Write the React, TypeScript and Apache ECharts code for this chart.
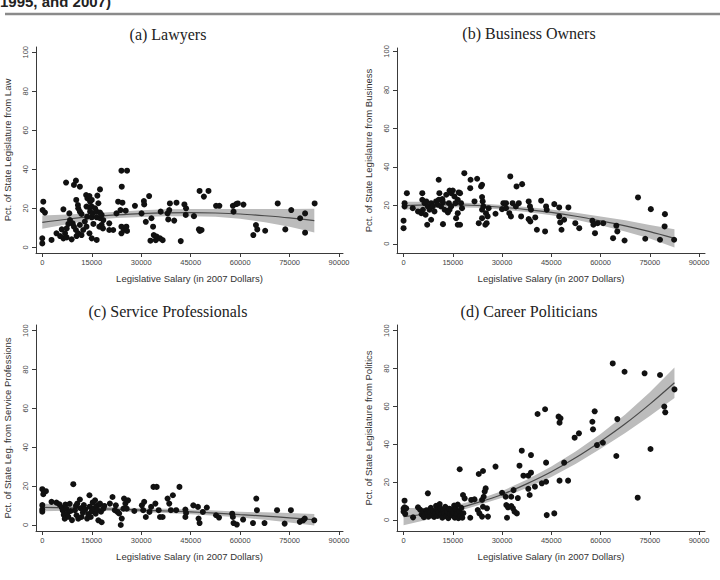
import React, { useEffect, useRef } from "react";
import * as echarts from "echarts";

// Axis ticks shared by all four panels
const salaryTicks = [0, 15000, 30000, 45000, 60000, 75000, 90000];
const pctTicks = [0, 20, 40, 60, 80, 100];

// Salary grid on which the quadratic fits and their 95% bands are given
const fitSalary = [0, 7500, 15000, 22500, 30000, 37500, 45000, 52500, 60000, 67500, 75000, 82500];

// (a) Lawyers: [salary, pct]
const lawyers = [
  [0, 4.6], [0, 2.0], [300, 23.4], [100, 19.1], [800, 17.8], [2800, 3.8],
  [4300, 7.2], [5400, 5.8], [5900, 9.2], [6400, 4.6], [6400, 19.5], [6900, 7.2], [7200, 33.2], [7400, 9.7],
  [7400, 5.1], [7900, 12.0], [8200, 17.4], [8400, 14.0], [8900, 4.1], [9200, 12.3], [9600, 32.0], [9600, 10.6],
  [10200, 34.2], [10200, 8.9], [10300, 24.3], [10400, 5.8], [10800, 21.7], [10900, 20.0], [10900, 7.2],
  [11400, 31.1], [11400, 18.3], [11400, 11.5], [11900, 17.1], [11900, 6.3], [12400, 8.9], [12900, 13.2],
  [13300, 26.8], [13400, 20.9], [13400, 10.6], [13600, 15.7], [13700, 25.1], [14300, 26.3], [14300, 20.5],
  [14300, 7.2], [14500, 23.4], [14500, 18.3], [15000, 24.3], [15000, 20.9], [15000, 15.4], [15000, 4.6],
  [15300, 17.4], [15500, 12.0], [16000, 20.0], [16500, 18.3], [16500, 15.4], [16500, 3.8], [16700, 26.5],
  [17000, 22.6], [17300, 10.6], [17500, 29.7], [17500, 17.8], [17500, 14.9], [18000, 16.6], [18000, 11.5],
  [18400, 9.7], [18500, 14.0], [20300, 12.3], [20300, 8.9], [21500, 8.9],
  [22500, 17.4], [23000, 23.4], [23700, 19.1], [24000, 39.3], [24100, 31.1], [24300, 22.9], [24000, 10.6],
  [24000, 7.2], [24700, 8.9], [25300, 18.8], [25500, 10.6], [25700, 39.3], [25700, 8.4], [28100, 21.3],
  [30100, 17.4], [30800, 23.7], [30900, 22.0], [31400, 13.1], [32400, 26.3], [32800, 3.4], [33100, 14.9],
  [33600, 10.6], [33800, 6.3], [34400, 3.7], [34700, 5.5], [35700, 4.6], [35900, 18.3], [36500, 3.7],
  [38000, 17.4], [38200, 14.3], [38500, 19.1], [38700, 22.5], [40000, 13.7], [40700, 22.9], [42000, 3.2],
  [43100, 22.0], [43500, 16.6], [43600, 20.0], [46000, 16.0], [47500, 9.2], [47700, 28.9], [47800, 8.4],
  [48300, 8.9], [49000, 26.0], [50400, 28.9], [52700, 21.3], [53700, 21.3], [57800, 21.3], [58000, 18.3],
  [58800, 22.2], [59300, 22.5], [61000, 21.9], [64000, 6.3], [64800, 11.4], [65200, 9.2], [67600, 8.5],
  [71400, 22.5], [73700, 9.2], [75500, 19.1], [78200, 14.9], [79700, 17.4], [79700, 7.5], [82600, 22.5],
];
const lawyersFit = [12.8, 14.4, 15.7, 16.6, 17.3, 17.7, 17.8, 17.6, 17.1, 16.2, 15.1, 13.7];
const lawyersLo = [9.5, 11.9, 14.0, 15.0, 15.6, 15.9, 15.9, 15.7, 14.6, 12.8, 10.6, 7.6];
const lawyersHi = [16.3, 16.8, 17.5, 18.3, 19.0, 19.5, 19.7, 19.6, 19.6, 19.6, 19.6, 19.8];

// (b) Business owners
const business = [
  [0, 12.0], [0, 8.1], [300, 21.1], [300, 19.4], [1000, 26.3], [2800, 18.5], [4400, 16.8], [5700, 26.3],
  [5700, 22.9], [6400, 21.1], [6900, 22.0], [7400, 19.4], [5900, 17.7], [5400, 15.9], [6700, 15.1],
  [7900, 17.7], [8400, 21.1], [8900, 19.4], [9400, 16.8], [7200, 9.9], [8400, 12.5], [10700, 33.3],
  [10900, 26.3], [9900, 22.0], [10700, 22.9], [10400, 20.3], [11800, 23.2], [12000, 21.5], [11400, 19.4],
  [12500, 17.7], [13000, 25.5], [14000, 27.7], [14500, 26.3], [15000, 27.7], [15500, 24.6], [13800, 21.1],
  [14500, 19.4], [15800, 21.1], [16800, 26.7], [17200, 26.3], [16500, 22.9], [16000, 13.3], [16500, 9.9],
  [17200, 9.9], [12000, 10.2], [14000, 17.7], [13500, 16.3], [17500, 21.1], [17800, 18.5], [16500, 15.9],
  [18500, 36.7], [20400, 33.3], [22400, 33.8], [20300, 28.9], [23900, 30.7], [23600, 29.8], [21600, 22.0],
  [23900, 24.3], [24100, 22.0], [24300, 19.4], [23900, 17.7], [25900, 18.5], [25100, 15.9], [25600, 14.2],
  [25300, 10.7], [24900, 9.9], [22900, 10.7], [23900, 13.3], [28000, 15.6], [30000, 18.0], [30400, 21.1],
  [31200, 21.1], [33200, 21.1], [35100, 21.1], [32500, 35.0], [34400, 29.8], [36100, 31.0], [31200, 18.5],
  [32200, 15.9], [32700, 14.2], [34200, 19.4], [35800, 14.2], [38100, 22.0], [38500, 19.4], [38800, 17.7],
  [38100, 12.8], [38600, 11.6], [40100, 13.7], [40600, 7.3], [41900, 22.4], [43100, 6.4], [43400, 19.4],
  [43600, 17.7], [45900, 20.6], [47400, 18.9], [47400, 14.2], [47700, 11.1], [48100, 7.3], [48900, 12.5],
  [50200, 18.9], [52300, 10.7], [53500, 8.1], [57500, 12.0], [57800, 9.9], [58300, 5.5], [59100, 10.7],
  [60800, 10.7], [63800, 2.9], [64800, 9.4], [65100, 6.4], [67300, 1.7], [71400, 24.1], [73600, 2.6],
  [75300, 18.0], [78100, 2.1], [79600, 15.4], [79500, 9.0], [82400, 2.1],
];
const businessFit = [19.8, 20.2, 20.3, 19.9, 19.0, 17.8, 16.3, 14.3, 11.9, 9.3, 6.3, 2.8];
const businessLo = [17.7, 18.6, 19.0, 18.7, 17.8, 16.5, 14.8, 12.5, 9.6, 6.4, 2.8, -2.0];
const businessHi = [21.9, 21.8, 21.6, 21.1, 20.2, 19.1, 17.8, 16.1, 14.2, 12.2, 9.8, 7.6];

// (c) Service professionals
const service = [
  [0, 18.4], [500, 17.0], [1100, 17.4], [300, 15.8], [0, 10.2], [0, 8.0], [0, 6.8],
  [2800, 11.9], [4300, 11.5], [5200, 10.6], [5900, 9.0], [6200, 7.5], [6500, 5.2], [6800, 3.2], [7000, 10.5],
  [7300, 8.3], [7600, 6.0], [7900, 4.2], [8300, 10.9], [8600, 7.2], [9000, 2.5], [9400, 21.0], [9900, 7.6],
  [10200, 9.8], [10400, 5.0], [10600, 11.0], [10900, 3.2], [11400, 13.1], [11600, 8.6], [11900, 4.1],
  [12300, 6.4], [12600, 10.2], [13000, 8.0], [13600, 3.3], [13900, 5.6], [14300, 15.3], [14400, 9.4],
  [14700, 4.1], [15000, 7.0], [15300, 11.6], [15600, 8.6], [16000, 12.7], [16200, 5.8], [16500, 9.8],
  [16700, 7.6], [17000, 2.4], [17200, 10.4], [17500, 11.0], [17800, 6.8], [18000, 1.4], [18500, 8.4],
  [18800, 9.8], [20500, 11.0], [21300, 14.4], [22000, 7.6], [22300, 10.1], [22800, 6.7], [23300, 5.9],
  [23800, 0.0], [24100, 3.3], [24600, 8.4], [24800, 13.6], [25200, 11.0], [25600, 8.4], [26000, 12.7],
  [27900, 7.2], [30200, 10.1], [30600, 7.6], [30900, 11.9], [31400, 4.1], [32500, 6.7], [33000, 9.3],
  [33700, 19.6], [34300, 11.0], [34700, 19.6], [35300, 7.6], [35700, 4.1], [36500, 4.1], [38000, 13.6],
  [38500, 11.0], [39000, 7.6], [39600, 15.3], [40600, 7.6], [41600, 19.6], [43400, 7.9], [43600, 6.2],
  [43400, 4.1], [45800, 10.1], [47200, 9.3], [47400, 3.3], [47700, 1.0], [48700, 6.7], [49900, 9.0],
  [52700, 5.0], [53600, 3.8], [57600, 5.8], [57800, 4.1], [58000, 1.0], [59000, 0.2], [60900, 2.8],
  [63900, 1.0], [64900, 13.6], [65100, 7.6], [67400, 1.0], [71200, 7.6], [73500, 0.7], [75400, 7.6],
  [78100, 1.6], [79100, 2.4], [79600, 3.3], [82500, 2.4],
];
const serviceFit = [9.1, 8.8, 8.5, 8.1, 7.6, 7.2, 6.7, 6.1, 5.3, 4.6, 3.7, 2.7];
const serviceLo = [7.1, 7.3, 7.4, 7.1, 6.6, 6.1, 5.5, 4.8, 3.8, 2.7, 1.3, -0.3];
const serviceHi = [11.1, 10.3, 9.6, 9.1, 8.6, 8.3, 7.9, 7.4, 6.8, 6.5, 6.1, 5.7];

// (d) Career politicians
const politics = [
  [300, 10.2], [300, 6.7], [0, 4.4], [500, 3.2], [0, 6.0], [800, 6.2], [2900, 1.4], [4400, 6.7], [7400, 14.1],
  [5000, 5.5], [5500, 3.0], [6000, 4.6], [6200, 1.5], [6600, 2.8], [7000, 5.2], [7200, 3.5], [7600, 1.8],
  [8000, 4.2], [8300, 6.4], [8700, 2.6], [9000, 4.8], [9300, 1.6], [9600, 3.4], [9900, 7.5], [10200, 5.6],
  [10400, 2.2], [10700, 4.0], [11000, 8.4], [11200, 6.2], [11500, 3.0], [11800, 1.2], [12100, 5.0],
  [12400, 3.6], [12700, 7.0], [13000, 2.0], [13300, 4.4], [13600, 1.0], [13900, 6.0], [14200, 3.2],
  [14500, 5.4], [14800, 2.4], [15100, 4.0], [15400, 7.6], [15600, 1.2], [15900, 5.8], [16200, 3.0],
  [16500, 8.2], [16700, 1.0], [17000, 4.6], [17300, 2.0], [17600, 6.4], [17900, 1.2], [18200, 3.6],
  [17100, 26.8], [18100, 13.2], [18600, 11.4], [20300, 1.2], [20600, 10.6], [21600, 10.9],
  [22900, 24.3], [24200, 25.9], [22600, 5.3], [23100, 3.5], [23900, 10.6], [24400, 12.3], [24700, 15.0],
  [25000, 16.7], [25400, 6.2], [25700, 1.8], [23900, 1.8], [24200, 7.0], [28000, 28.2], [30000, 14.4],
  [31100, 12.3], [31300, 7.9], [31800, 6.7], [32800, 7.4], [33300, 6.2], [31500, 1.2], [32800, 12.3],
  [33800, 4.4], [34500, 3.5], [33500, 15.8], [34800, 11.6], [35300, 28.7], [36000, 36.6], [36500, 23.4],
  [38000, 23.4], [38800, 25.0], [38800, 34.3], [38000, 16.5], [38400, 13.2], [40000, 17.6], [40800, 56.0],
  [42100, 19.4], [43100, 58.5], [43400, 20.2], [43400, 30.3], [43600, 2.6], [45900, 3.5], [47200, 54.6],
  [47800, 53.7], [47500, 51.4], [47500, 20.8], [48900, 30.3], [50100, 20.8], [52100, 43.5], [53400, 45.8],
  [57500, 51.9], [58200, 57.4], [57700, 47.9], [58900, 39.6], [60700, 40.8], [63700, 82.7], [65100, 53.3],
  [64800, 33.8], [67300, 78.3], [71300, 11.8], [73400, 77.5], [75200, 37.5], [78100, 76.6], [79400, 59.9],
  [79700, 56.9], [82500, 69.0],
];
const politicsFit = [1.8, 3.3, 5.6, 9.2, 13.5, 19.1, 25.5, 33.0, 41.5, 50.8, 61.2, 72.5];
const politicsLo = [-2.7, 0.3, 3.8, 7.7, 11.7, 16.9, 22.7, 29.7, 37.6, 45.9, 54.9, 64.5];
const politicsHi = [6.3, 6.3, 7.4, 10.7, 15.3, 21.3, 28.3, 36.3, 45.4, 55.7, 67.5, 80.5];

const xTitle = "Legislative Salary (in 2007 Dollars)";

const SANS = '"Liberation Sans", Arial, Helvetica, sans-serif';
const SERIF = '"Liberation Serif", "Times New Roman", serif';

const panels = [
  {
    title: "(a) Lawyers", yTitle: "Pct. of State Legislature from Law",
    points: lawyers, fit: lawyersFit, lo: lawyersLo, hi: lawyersHi,
    grid: { left: 36, top: 47, width: 307, height: 206 },
    xMin: -1910, xMax: 91200, yMin: -2.9, yMax: 102.7, titleX: 168, titleY: 34,
  },
  {
    title: "(b) Business Owners", yTitle: "Pct. of State Legislature from Business",
    points: business, fit: businessFit, lo: businessLo, hi: businessHi,
    grid: { left: 397, top: 48, width: 308, height: 205 },
    xMin: -2000, xMax: 91800, yMin: -4.8, yMax: 101.8, titleX: 529, titleY: 33,
  },
  {
    title: "(c) Service Professionals", yTitle: "Pct. of State Leg. from Service Professions",
    points: service, fit: serviceFit, lo: serviceLo, hi: serviceHi,
    grid: { left: 36, top: 325, width: 307, height: 206 },
    xMin: -1910, xMax: 91200, yMin: -3.1, yMax: 102.9, titleX: 168, titleY: 311,
  },
  {
    title: "(d) Career Politicians", yTitle: "Pct. of State Legislature from Politics",
    points: politics, fit: politicsFit, lo: politicsLo, hi: politicsHi,
    grid: { left: 397, top: 325, width: 308, height: 206 },
    xMin: -2000, xMax: 91800, yMin: -5.8, yMax: 103.0, titleX: 529, titleY: 311,
  },
];

const AXIS_COLOR = "#3a3a3a";
const LABEL_COLOR = "#444";
const BAND_COLOR = "#bcbcbc";

function buildOption() {
  const grids: any[] = [];
  const xAxes: any[] = [];
  const yAxes: any[] = [];
  const series: any[] = [];
  const graphics: any[] = [];

  panels.forEach((p, i) => {
    grids.push({ ...p.grid, containLabel: false });

    xAxes.push({
      type: "value", gridIndex: i, min: p.xMin, max: p.xMax,
      axisLine: { show: true, onZero: false, lineStyle: { color: AXIS_COLOR, width: 1 } },
      axisTick: { show: true, length: 4, customValues: salaryTicks, lineStyle: { color: AXIS_COLOR } },
      axisLabel: {
        customValues: salaryTicks, formatter: (v: number) => String(v),
        fontSize: 7.5, color: LABEL_COLOR, fontFamily: SANS, margin: 5,
      },
      splitLine: { show: false },
      name: xTitle, nameLocation: "middle", nameGap: 20,
      nameTextStyle: { fontSize: 9.5, color: "#333", fontFamily: SANS },
    });

    yAxes.push({
      type: "value", gridIndex: i, min: p.yMin, max: p.yMax,
      axisLine: { show: true, onZero: false, lineStyle: { color: AXIS_COLOR, width: 1 } },
      axisTick: { show: true, length: 4, customValues: pctTicks, lineStyle: { color: AXIS_COLOR } },
      axisLabel: {
        customValues: pctTicks, formatter: (v: number) => String(v), rotate: 90,
        fontSize: 7.5, color: LABEL_COLOR, fontFamily: SANS, margin: 7,
      },
      splitLine: { show: false },
      name: p.yTitle, nameLocation: "middle", nameGap: 24,
      nameTextStyle: { fontSize: 9.5, color: "#333", fontFamily: SANS },
    });

    // confidence band: one polygon through the upper edge and back along the lower edge
    const bandData = fitSalary.map((x, k) => [x, p.lo[k], p.hi[k]]);
    series.push({
      type: "custom", xAxisIndex: i, yAxisIndex: i, data: bandData,
      encode: { x: 0, y: [1, 2] }, silent: true, z: 1,
      renderItem: (params: any, api: any) => {
        if (params.dataIndex !== 0) return null;
        const upper = bandData.map((d) => api.coord([d[0], d[2]]));
        const lower = bandData.map((d) => api.coord([d[0], d[1]])).reverse();
        return {
          type: "polygon",
          shape: { points: upper.concat(lower) },
          style: { fill: BAND_COLOR, stroke: "none" },
        };
      },
    });
    series.push({
      type: "line", xAxisIndex: i, yAxisIndex: i,
      data: fitSalary.map((x, k) => [x, p.fit[k]]),
      symbol: "none", smooth: 0.3, lineStyle: { color: "#4a4a4a", width: 1.2 }, silent: true, z: 2,
    });
    series.push({
      type: "scatter", xAxisIndex: i, yAxisIndex: i, data: p.points,
      symbol: "circle", symbolSize: 6, itemStyle: { color: "#111", opacity: 1 }, z: 3,
    });

    graphics.push({
      type: "text", x: p.titleX, y: p.titleY,
      style: {
        text: p.title, font: `16px ${SERIF}`, fill: "#222",
        textAlign: "center", textVerticalAlign: "middle", align: "center", verticalAlign: "middle",
      },
    });
  });

  // running header, clipped at the top of the page, and its rule
  graphics.push({
    type: "text", x: 0, y: 1.6,
    style: {
      text: "1995, and 2007)", font: `bold 15px ${SANS}`, fill: "#222",
      textAlign: "left", textVerticalAlign: "middle", align: "left", verticalAlign: "middle",
    },
  });
  graphics.push({
    type: "line", shape: { x1: 5, y1: 14, x2: 720, y2: 14 },
    style: { stroke: "#8a8a8a", lineWidth: 2.5 },
  });

  return {
    animation: false,
    backgroundColor: "#fff",
    grid: grids,
    xAxis: xAxes,
    yAxis: yAxes,
    series,
    graphic: graphics,
  };
}

export default function App() {
  const ref = useRef<HTMLDivElement>(null);
  useEffect(() => {
    if (!ref.current) return;
    const chart = echarts.init(ref.current, undefined, { renderer: "svg" });
    chart.setOption(buildOption() as any);
    return () => chart.dispose();
  }, []);
  return (
    <div
      ref={ref}
      style={{ position: "absolute", left: 0, top: 0, width: 720, height: 580, background: "#fff" }}
    />
  );
}
